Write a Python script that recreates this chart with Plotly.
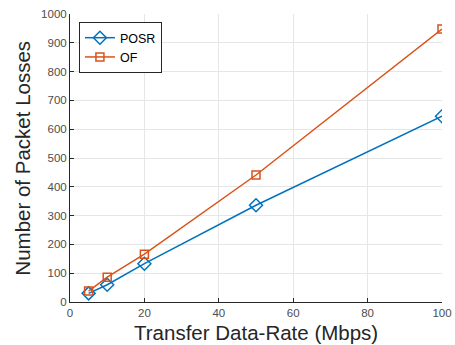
import plotly.graph_objects as go

rates = [5, 10, 20, 50, 100]
posr = [30, 60, 133, 336, 645]
of = [38, 86, 166, 441, 948]
xticks = [0, 20, 40, 60, 80, 100]
yticks = [0, 100, 200, 300, 400, 500, 600, 700, 800, 900, 1000]

fig = go.Figure()
fig.add_trace(go.Scatter(x=rates, y=posr, name="POSR", mode="lines+markers",
                         line=dict(color="#0072BD", width=1.5),
                         marker=dict(symbol="diamond-open", size=10, color="#0072BD", line=dict(width=1.5))))
fig.add_trace(go.Scatter(x=rates, y=of, name="OF", mode="lines+markers",
                         line=dict(color="#D95319", width=1.5),
                         marker=dict(symbol="square-open", size=8, color="#D95319", line=dict(width=1.5))))

axis_common = dict(ticks="inside", ticklen=4, tickcolor="#262626", showline=True,
                   linecolor="#262626", linewidth=1, showgrid=True, gridcolor="#E6E6E6",
                   gridwidth=1, zeroline=False, automargin=False,
                   tickfont=dict(size=11.5, color="#4D4D4D"))

fig.update_layout(
    width=455, height=345,
    margin=dict(l=70, r=13, t=14, b=43, autoexpand=False),
    paper_bgcolor="white", plot_bgcolor="white",
    font=dict(family="Liberation Sans, Arial, sans-serif", color="#262626"),
    showlegend=True,
    legend=dict(x=0.024, y=0.972, xanchor="left", yanchor="top",
                bgcolor="white", bordercolor="#262626", borderwidth=1,
                font=dict(size=12.5, color="black"), tracegroupgap=0,
                itemwidth=30),
    xaxis=dict(range=[0, 100], tickvals=xticks, **axis_common),
    yaxis=dict(range=[0, 1000], tickvals=yticks, **axis_common),
    annotations=[
        dict(text="Transfer Data-Rate (Mbps)", xref="paper", yref="paper",
             x=0.5, y=-0.105, xanchor="center", yanchor="middle", showarrow=False,
             font=dict(size=20.5, color="#262626")),
        dict(text="Number of Packet Losses", xref="paper", yref="paper",
             x=-0.13, y=0.5, xanchor="center", yanchor="middle", showarrow=False,
             textangle=-90, font=dict(size=20.5, color="#262626")),
    ],
)

fig.write_html("out.html")
